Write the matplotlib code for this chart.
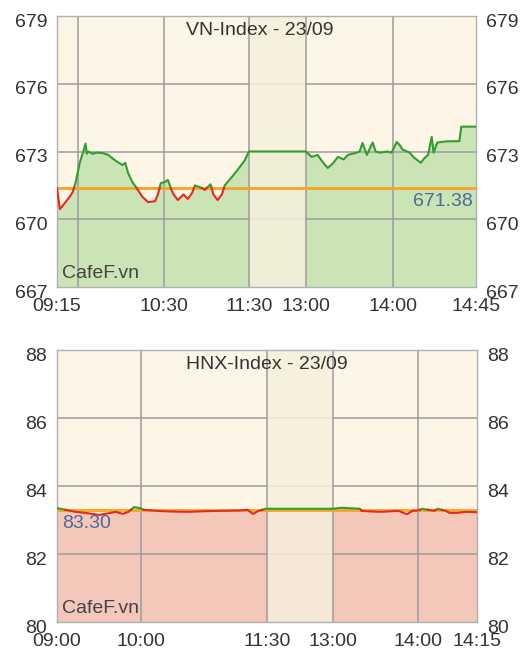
import matplotlib
matplotlib.use('Agg')
import matplotlib.pyplot as plt
import matplotlib.transforms as mtransforms
import numpy as np

plt.rcParams['font.family'] = ['Liberation Sans', 'DejaVu Sans']

# ---- VN-Index data
vn_times = ['09:15', '09:17', '09:19', '09:21', '09:24', '09:26', '09:28', '09:31', '09:34', '09:35',
            '09:36', '09:37', '09:40', '09:43', '09:47', '09:51', '09:56', '10:01', '10:03', '10:05',
            '10:08', '10:11', '10:15', '10:19', '10:24', '10:26', '10:28', '10:31', '10:33', '10:35',
            '10:37', '10:40', '10:44', '10:47', '10:50', '10:52', '10:57', '10:59', '11:03', '11:05',
            '11:08', '11:11', '11:13', '11:18', '11:22', '11:27', '11:30',
            '13:00', '13:04', '13:08', '13:12', '13:15', '13:19', '13:22', '13:26', '13:29', '13:34',
            '13:37', '13:39', '13:42', '13:46', '13:48', '13:51', '13:56', '13:59', '14:02', '14:04',
            '14:05', '14:09', '14:11', '14:15', '14:17', '14:19', '14:21', '14:22', '14:24', '14:29',
            '14:36', '14:37', '14:45']
vn_values = [671.38, 670.45, 670.6, 670.76, 671.0, 671.2, 671.6, 672.5, 673.1, 673.35,
             672.9, 673.0, 672.9, 672.95, 672.93, 672.85, 672.6, 672.4, 672.5, 672.05,
             671.65, 671.38, 671.0, 670.76, 670.8, 671.1, 671.6, 671.65, 671.74, 671.38,
             671.1, 670.85, 671.1, 670.9, 671.16, 671.5, 671.38, 671.3, 671.55, 671.1,
             670.85, 671.1, 671.5, 671.87, 672.18, 672.6, 673.0,
             673.0, 672.76, 672.85, 672.5, 672.27, 672.5, 672.76, 672.65, 672.85, 672.93,
             673.0, 673.38, 672.85, 673.4, 673.0, 672.95, 673.0, 672.95, 673.42, 673.25,
             673.1, 672.95, 672.76, 672.5, 672.7, 672.85, 673.65, 672.95, 673.4, 673.45,
             673.46, 674.1, 674.1]
vn_ref = 671.38

# ---- HNX-Index data
hnx_times = ['09:00', '09:06', '09:13', '09:22', '09:30', '09:37', '09:42', '09:47', '09:51', '09:55',
             '09:59', '10:02', '10:11', '10:21', '10:34', '10:46', '10:58', '11:11', '11:16', '11:20',
             '11:24', '11:29', '11:30',
             '13:00', '13:06', '13:19', '13:20', '13:27', '13:34', '13:46', '13:52', '13:56', '14:00',
             '14:01', '14:04', '14:05', '14:07', '14:08', '14:10', '14:12', '14:15']
hnx_values = [83.35, 83.30, 83.24, 83.20, 83.15, 83.20, 83.24, 83.18, 83.24, 83.38,
              83.35, 83.30, 83.27, 83.25, 83.24, 83.26, 83.27, 83.28, 83.30, 83.18,
              83.27, 83.33, 83.33,
              83.33, 83.36, 83.33, 83.27, 83.25, 83.24, 83.27, 83.17, 83.27, 83.28,
              83.33, 83.27, 83.33, 83.27, 83.21, 83.21, 83.24, 83.23]
hnx_ref = 83.30

# time axis (session compressed): knots of the horizontal scale
vn_knots = ['09:15', '11:30', '13:00', '14:00', '14:45']
vn_knot_pos = [0, 0.458, 0.594, 0.802, 1.0]
vn_grid = ['09:30', '10:30', '11:30', '13:00', '14:00']
vn_labels = ['09:15', '10:30', '11:30', '13:00', '14:00', '14:45']

hnx_knots = ['09:00', '11:30', '13:00', '14:00', '14:15']
hnx_knot_pos = [0, 0.5, 0.657, 0.860, 1.0]
hnx_grid = ['10:00', '11:30', '13:00', '14:00']
hnx_labels = ['09:00', '10:00', '11:30', '13:00', '14:00', '14:15']


def to_min(s):
    h, m = s.split(':')
    return int(h) * 60 + int(m)


def scale(times, knots, knot_pos):
    return np.interp([to_min(t) for t in times], [to_min(k) for k in knots], knot_pos)


def split_at_ref(x, y, ref):
    xs, ys = [x[0]], [y[0]]
    for i in range(1, len(x)):
        if (y[i-1] - ref) * (y[i] - ref) < 0:
            f = (ref - y[i-1]) / (y[i] - y[i-1])
            xs.append(x[i-1] + f * (x[i] - x[i-1]))
            ys.append(ref)
        xs.append(x[i])
        ys.append(y[i])
    return np.array(xs), np.array(ys)


BG = '#fdf6e6'
LUNCH = '#f6efdc'
GRID = '#9c9c9c'
GREEN = '#2f9e2f'
RED = '#e8281e'
ORANGE = '#f5a429'
TXT = '#333333'
FS = 14


def draw(ax, times, values, ref, knots, knot_pos, grid_t, label_t, yticks, title, title_x,
         fill, val_left):
    x = scale(times, knots, knot_pos)
    y = np.array(values)
    ymin, ymax = yticks[0], yticks[-1]
    ax.set_facecolor(BG)
    ax.set_xlim(0, 1)
    ax.set_ylim(ymin, ymax)

    ax.fill_between(x, y, ymin, color=fill, lw=0, zorder=1)

    for v in yticks[1:-1]:
        ax.axhline(v, color=GRID, lw=1.1, zorder=1.5)
    gx = scale(grid_t, knots, knot_pos)
    for g in gx:
        ax.axvline(g, color=GRID, lw=1.1, zorder=2.5)

    lunch = scale(['11:30', '13:00'], knots, knot_pos)
    ax.axvspan(lunch[0], lunch[1], color=LUNCH, alpha=0.85, lw=0, zorder=2)

    ax.axhline(ref, color=ORANGE, lw=2, zorder=3)

    xs, ys = split_at_ref(x, y, ref)
    ax.plot(xs, np.ma.masked_where(ys < ref, ys), color=GREEN, lw=1.5, zorder=4)
    ax.plot(xs, np.ma.masked_where(ys > ref, ys), color=RED, lw=1.5, zorder=4)

    ax.set_xticks(scale(label_t, knots, knot_pos))
    ax.set_xticklabels(label_t)
    ax.set_yticks(yticks)
    ax.tick_params(axis='x', length=0, pad=8, labelsize=FS, labelcolor=TXT)
    ax.tick_params(axis='y', length=0, pad=7, labelsize=FS, labelcolor=TXT,
                   left=True, right=True, labelleft=True, labelright=True)
    shift = mtransforms.ScaledTranslation(0, -3 / 72, ax.figure.dpi_scale_trans)
    for t in ax.yaxis.get_major_ticks():
        t.label1.set_transform(t.label1.get_transform() + shift)
        t.label2.set_transform(t.label2.get_transform() + shift)
    for s in ax.spines.values():
        s.set_color('#b0b0b0')
        s.set_linewidth(1)

    ax.text(title_x, 0.948, title, transform=ax.transAxes, ha='center', va='center',
            fontsize=FS, color=TXT, zorder=5)
    ax.text(0.012, 0.05, 'CafeF.vn', transform=ax.transAxes, ha='left', va='center',
            fontsize=FS, color='#444444', zorder=5)
    if val_left:
        ax.annotate('%.2f' % ref, xy=(0.012, ref), xycoords=('axes fraction', 'data'),
                    xytext=(0, -10), textcoords='offset points', ha='left', va='center',
                    fontsize=FS, color='#4d6a9c', zorder=5)
    else:
        ax.annotate('%.2f' % ref, xy=(0.993, ref), xycoords=('axes fraction', 'data'),
                    xytext=(0, -10), textcoords='offset points', ha='right', va='center',
                    fontsize=FS, color='#4d6a9c', zorder=5)


fig = plt.figure(figsize=(5.27, 6.58), dpi=100)
ax1 = fig.add_axes([0.1082, 0.5638, 0.7950, 0.4119])
ax2 = fig.add_axes([0.1082, 0.0547, 0.7970, 0.4134])

draw(ax1, vn_times, vn_values, vn_ref, vn_knots, vn_knot_pos, vn_grid, vn_labels,
     [667, 670, 673, 676, 679], 'VN-Index - 23/09', 0.485, '#cbe4b5', False)
draw(ax2, hnx_times, hnx_values, hnx_ref, hnx_knots, hnx_knot_pos, hnx_grid, hnx_labels,
     [80, 82, 84, 86, 88], 'HNX-Index - 23/09', 0.5, '#f3c7ba', True)

fig.savefig('out.png', dpi=100)
